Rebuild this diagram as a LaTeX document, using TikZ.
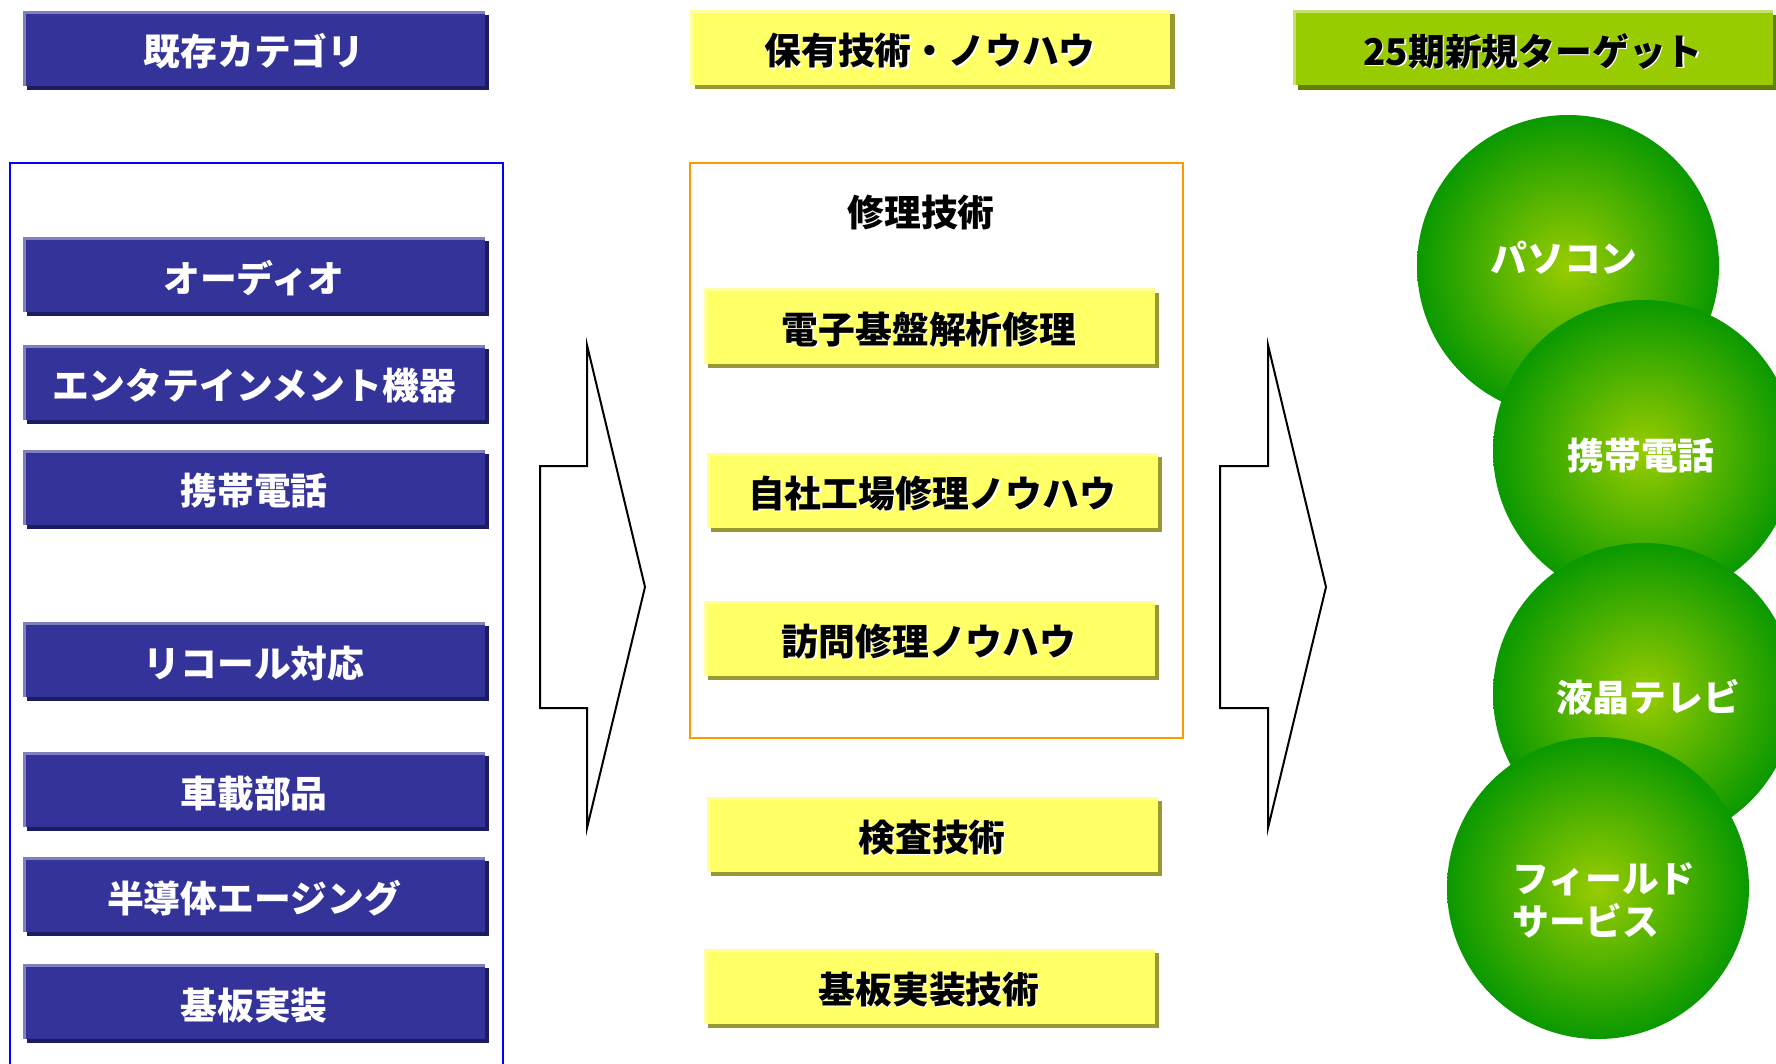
\documentclass[tikz,border=0pt]{standalone}
\usepackage{fontspec}
\setmainfont{Noto Sans CJK JP}
\usetikzlibrary{shadows}
\definecolor{bbody}{HTML}{333399}
\definecolor{blight}{HTML}{8080C0}
\definecolor{bshad}{HTML}{1C1C60}
\definecolor{ybody}{HTML}{FFFF66}
\definecolor{ylight}{HTML}{FFFFA0}
\definecolor{yshad}{HTML}{999933}
\definecolor{gbody}{HTML}{99CC00}
\definecolor{glight}{HTML}{C4E070}
\definecolor{gshad}{HTML}{648000}
\definecolor{ballin}{HTML}{99CC00}
\definecolor{ballout}{HTML}{0A9900}
\definecolor{frameblue}{HTML}{0000FF}
\definecolor{frameorange}{HTML}{FF9900}
\newcommand\tshadow[1]{\leavevmode\rlap{\hspace{1.3pt}\raisebox{-1.3pt}{\color{white}#1}}#1}
\tikzset{
  hl/.style={path picture={
    \fill[#1] (path picture bounding box.north west) rectangle ([yshift=-3pt]path picture bounding box.north east);
    \fill[#1] (path picture bounding box.north west) rectangle ([xshift=3pt]path picture bounding box.south west);}},
  bigfont/.style={font=\bfseries\fontsize{36.8pt}{43pt}\selectfont},
  basebox/.style={inner sep=0pt, outer sep=0pt, minimum height=75pt, text height=38pt, text depth=3pt, bigfont},
  bluebox/.style={basebox, minimum width=462pt, fill=bbody, text=white, hl=blight,
    general shadow={fill=bshad, shadow xshift=4pt, shadow yshift=-4pt}},
  yellowbox/.style={basebox, minimum width=#1, fill=ybody, text=black, hl=ylight,
    general shadow={fill=yshad, shadow xshift=4.5pt, shadow yshift=-4.5pt}},
  greenbox/.style={basebox, minimum width=480pt, fill=gbody, text=black, hl=glight,
    general shadow={fill=gshad, shadow xshift=4.5pt, shadow yshift=-4.5pt}},
  ball/.style={circle, inner sep=0pt, minimum size=302pt, shading=radial, inner color=ballin, outer color=ballout},
  balltext/.style={text=white, bigfont, align=left, inner sep=0pt},
  plaintext/.style={text=black, bigfont, inner sep=0pt},
  frame/.style={line width=2pt},
  blockarrow/.style={draw=black, line width=2pt, fill=white, line join=miter}
}
\begin{document}
\begin{tikzpicture}[x=1pt, y=-1pt]
\useasboundingbox (0,0) rectangle (1776,1064);
\clip (0,0) rectangle (1776,1064);
\fill[white] (0,0) rectangle (1776,1064);

% left column
\draw[frame, frameblue] (10,163) rectangle (503,1100);
\node[bluebox] (h1) at (254,48.5) {既存カテゴリ};
\node[bluebox] (audio) at (254,275) {オーディオ};
\node[bluebox] (ent) at (254,382) {エンタテインメント機器};
\node[bluebox] (phone) at (254,487) {携帯電話};
\node[bluebox] (recall) at (254,659.5) {リコール対応};
\node[bluebox] (car) at (254,789.5) {車載部品};
\node[bluebox] (semi) at (254,894.5) {半導体エージング};
\node[bluebox] (pcb) at (254,1001.5) {基板実装};

% arrows
\draw[blockarrow] (587,345) -- (645,587) -- (587,828) -- (587,708) -- (540,708) -- (540,466) -- (587,466) -- cycle;
\draw[blockarrow] (1268,345) -- (1326,587) -- (1268,828) -- (1268,708) -- (1220,708) -- (1220,466) -- (1268,466) -- cycle;

% middle column
\node[yellowbox=480pt] (h2) at (930,47.5) {\tshadow{保有技術・ノウハウ}};
\draw[frame, frameorange] (690,163) rectangle (1183,738);
\node[plaintext] (repair) at (921,213) {\tshadow{修理技術}};
\node[yellowbox=451pt] (elec) at (929,326) {\tshadow{電子基盤解析修理}};
\node[yellowbox=451pt] (factory) at (932,490) {\tshadow{自社工場修理ノウハウ}};
\node[yellowbox=451pt] (visit) at (929,638) {\tshadow{訪問修理ノウハウ}};
\node[yellowbox=451pt] (inspect) at (932,834) {\tshadow{検査技術}};
\node[yellowbox=451pt] (mount) at (929,986) {\tshadow{基板実装技術}};

% right column
\node[greenbox] (h3) at (1533,48) {\tshadow{25期新規ターゲット}};
\node[ball] (pc) at (1568,266) {};
\node[balltext] (pct) at (1564,258) {パソコン};
\node[ball] (mob) at (1644,451) {};
\node[balltext] (mobt) at (1641,456) {携帯電話};
\node[ball] (lcd) at (1644,694) {};
\node[balltext] (lcdt) at (1648,697) {液晶テレビ};
\node[ball] (field) at (1598,888) {};
\node[balltext] (fieldt) at (1604,900) {フィールド\\サービス};
\end{tikzpicture}
\end{document}
